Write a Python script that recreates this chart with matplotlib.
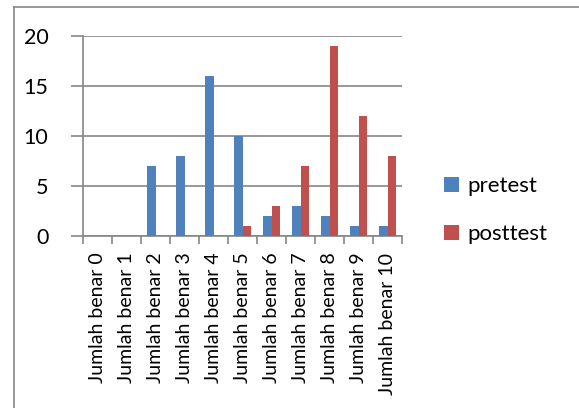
import matplotlib
matplotlib.use("Agg")
import matplotlib.pyplot as plt
import numpy as np
from matplotlib.lines import Line2D

categories = ["Jumlah benar 0", "Jumlah benar 1", "Jumlah benar 2", "Jumlah benar 3",
              "Jumlah benar 4", "Jumlah benar 5", "Jumlah benar 6", "Jumlah benar 7",
              "Jumlah benar 8", "Jumlah benar 9", "Jumlah benar 10"]
pretest = [0, 0, 7, 8, 16, 10, 2, 3, 2, 1, 1]
posttest = [0, 0, 0, 0, 0, 1, 3, 7, 19, 12, 8]
yticks = [0, 5, 10, 15, 20]

plt.rcParams['font.family'] = ['Lato', 'DejaVu Sans']
W, H = 579, 408
fig = plt.figure(figsize=(W / 100, H / 100), dpi=100)
ax = fig.add_axes([83 / W, 1 - 236 / H, (402 - 83) / W, (236 - 36) / H])

grid_c = '#868686'
x = np.arange(len(categories))
bw = 0.29
ax.bar(x - bw / 2, pretest, width=bw, color='#4F81BD', label='pretest', zorder=3)
ax.bar(x + bw / 2, posttest, width=bw, color='#C0504D', label='posttest', zorder=3)

ax.set_xlim(-0.5, len(categories) - 0.5)
ax.set_ylim(0, 20)
ax.set_yticks(yticks)
ax.set_yticklabels([str(v) for v in yticks], fontsize=15.5)
ax.yaxis.grid(True, color=grid_c, linewidth=1.2, zorder=0)
ax.set_axisbelow(True)

ax.set_xticks(np.arange(-0.5, len(categories), 1.0))
ax.set_xticklabels([])
ax.set_xticks(x, minor=True)
ax.set_xticklabels(categories, minor=True, rotation=90, fontsize=14, va='top', ha='center')
ax.tick_params(axis='x', which='major', length=6, color=grid_c, width=1.2, direction='out')
ax.tick_params(axis='x', which='minor', length=0, pad=12)
ax.tick_params(axis='y', length=9, color=grid_c, width=1.2, pad=16)

for s in ['top', 'right']:
    ax.spines[s].set_visible(False)
for s in ['left', 'bottom']:
    ax.spines[s].set_color(grid_c)
    ax.spines[s].set_linewidth(1.2)

leg = fig.legend(loc='upper left', bbox_to_anchor=(444 / W, 1 - 176 / H),
                 frameon=False, fontsize=16, handlelength=0.68, handleheight=0.68,
                 handletextpad=0.36, labelspacing=1.28, borderpad=0, borderaxespad=0)

fig.add_artist(Line2D([14 / W, 1.0], [1 - 7 / H, 1 - 7 / H], transform=fig.transFigure,
                      color=grid_c, linewidth=1.2))
fig.add_artist(Line2D([14 / W, 14 / W], [0.0, 1 - 7 / H], transform=fig.transFigure,
                      color=grid_c, linewidth=1.2))

fig.savefig('out.png', dpi=100)
